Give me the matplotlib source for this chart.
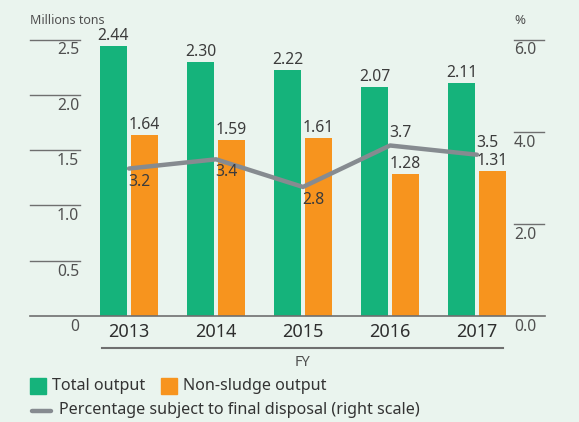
import matplotlib
matplotlib.use("Agg")
import matplotlib.pyplot as plt
import numpy as np

# Data
years = ["2013", "2014", "2015", "2016", "2017"]
total_output = [2.44, 2.30, 2.22, 2.07, 2.11]
non_sludge = [1.64, 1.59, 1.61, 1.28, 1.31]
final_disposal_pct = [3.2, 3.4, 2.8, 3.7, 3.5]
left_ticks = [0.5, 1.0, 1.5, 2.0, 2.5]
left_tick_labels = ["0.5", "1.0", "1.5", "2.0", "2.5"]
right_ticks = [2.0, 4.0, 6.0]
right_tick_labels = ["2.0", "4.0", "6.0"]
pct_label_above = [False, False, False, True, True]

BG = "#eaf4ee"
GREEN = "#15b37b"
ORANGE = "#f7941e"
GREY_LINE = "#868b90"
TEXT = "#3c3c3c"
AXIS = "#6f6f6f"

plt.rcParams["font.family"] = ["Noto Sans", "DejaVu Sans"]

W, H = 579, 422
fig = plt.figure(figsize=(W / 100, H / 100), dpi=100, facecolor=BG)

def fx(px):
    return px / W

def fy(py):
    return 1 - py / H

# Plot area in pixel coordinates
x0, x1 = 30, 545
y_base, y_top = 316, 39.5
ax = fig.add_axes([fx(x0), fy(y_base), fx(x1 - x0), (y_base - y_top) / H])
ax.set_facecolor("none")
ax.set_ylim(0, 2.5)
ax.set_xlim((30 - 129) / 87, (545 - 129) / 87)
for s in ax.spines.values():
    s.set_visible(False)
ax.set_xticks([])
ax.set_yticks([])

ax2 = ax.twinx()
ax2.set_ylim(0, 6.0)
for s in ax2.spines.values():
    s.set_visible(False)
ax2.set_yticks([])

x = np.arange(len(years))
bw = 27 / 87
off = 15.5 / 87
ax.bar(x - off, total_output, bw, color=GREEN, zorder=2)
ax.bar(x + off, non_sludge, bw, color=ORANGE, zorder=2)

for xi, v in zip(x, total_output):
    ax.annotate(f"{v:.2f}", (xi - off, v), xytext=(0, 2), textcoords="offset pixels",
                ha="center", va="bottom", fontsize=11.3, color=TEXT, zorder=5)
for xi, v in zip(x, non_sludge):
    ax.annotate(f"{v:.2f}", (xi + off, v), xytext=(0, 2), textcoords="offset pixels",
                ha="center", va="bottom", fontsize=11.3, color=TEXT, zorder=5)

ax2.plot(x, final_disposal_pct, color=GREY_LINE, lw=3.2, solid_capstyle="round",
         solid_joinstyle="round", zorder=4)
for xi, v, above in zip(x, final_disposal_pct, pct_label_above):
    if above:
        ax2.annotate(f"{v:.1f}", (xi, v), xytext=(-1, 4), textcoords="offset pixels",
                     ha="left", va="bottom", fontsize=11.3, color=TEXT, zorder=5)
    else:
        ax2.annotate(f"{v:.1f}", (xi, v), xytext=(-1, -5), textcoords="offset pixels",
                     ha="left", va="top", fontsize=11.3, color=TEXT, zorder=5)

# Baseline
fig.add_artist(plt.Line2D([fx(30), fx(545)], [fy(316), fy(316)], color=AXIS, lw=1.2))

# Left scale: short rules with labels beneath
scale_left = (y_base - y_top) / 2.5
for t, lab in zip(left_ticks, left_tick_labels):
    py = y_base - t * scale_left
    fig.add_artist(plt.Line2D([fx(30), fx(80)], [fy(py), fy(py)], color=AXIS, lw=1.0))
    fig.text(fx(79), fy(py + 3), lab, ha="right", va="top", fontsize=11.3, color="#505050")
fig.text(fx(79), fy(319), "0", ha="right", va="top", fontsize=11.3, color="#505050")

# Right scale
scale_right = (y_base - y_top) / 6.0
for t, lab in zip(right_ticks, right_tick_labels):
    py = y_base - t * scale_right
    fig.add_artist(plt.Line2D([fx(514), fx(544)], [fy(py), fy(py)], color=AXIS, lw=1.0))
    fig.text(fx(514), fy(py + 3), lab, ha="left", va="top", fontsize=11.3, color="#505050")
fig.text(fx(514), fy(319), "0.0", ha="left", va="top", fontsize=11.3, color="#505050")

fig.text(fx(30), fy(21), "Millions tons", ha="left", va="center", fontsize=9,
         color="#505050", stretch="condensed")
fig.text(fx(514), fy(21), "%", ha="left", va="center", fontsize=9.5, color="#505050")

# Year labels
for xi, yr in zip(x, years):
    ax.annotate(yr, (xi, 0), xytext=(0, -16), textcoords="offset pixels",
                ha="center", va="center", fontsize=13, color="#2e2e2e",
                fontweight="medium", annotation_clip=False)

# FY rule
fig.add_artist(plt.Line2D([fx(102), fx(503)], [fy(348), fy(348)], color=AXIS, lw=1.5))
fig.text(fx(302), fy(362), "FY", ha="center", va="center", fontsize=10.5, color="#505050")

# Legend
fig.add_artist(plt.Rectangle((fx(30), fy(394)), fx(16), 16 / H, color=GREEN))
fig.text(fx(52), fy(386), "Total output", ha="left", va="center", fontsize=11.6, color="#333333")
fig.add_artist(plt.Rectangle((fx(161), fy(394)), fx(16), 16 / H, color=ORANGE))
fig.text(fx(183), fy(386), "Non-sludge output", ha="left", va="center", fontsize=11.6, color="#333333")
fig.add_artist(plt.Line2D([fx(32), fx(51)], [fy(411), fy(411)], color=GREY_LINE, lw=3.2,
                          solid_capstyle="round"))
fig.text(fx(59), fy(410), "Percentage subject to final disposal (right scale)", ha="left",
         va="center", fontsize=11.6, color="#333333")

fig.savefig("out.png", dpi=100, facecolor=BG)
